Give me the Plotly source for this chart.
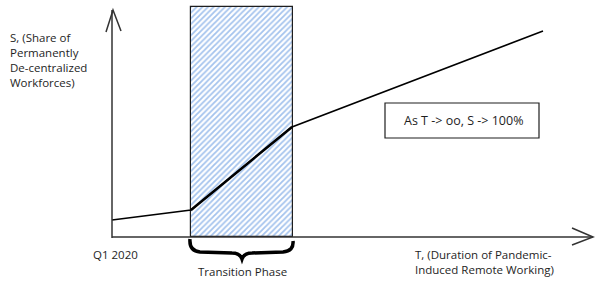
import plotly.graph_objects as go

# ---- data (T = duration units, S = share units; origin at axis intersection)
line_T = [0, 79, 180, 431]
line_S = [17, 27, 110, 206]

phase_start = 79
phase_end = 181
phase_top = 230

x_axis_end = 481
y_axis_end = 227

axis_label_S = "S, (Share of<br>Permanently<br>De-centralized<br>Workforces)"
axis_label_T = "T, (Duration of Pandemic-<br>Induced Remote Working)"
origin_label = "Q1 2020"
phase_label = "Transition Phase"
note_text = "As T -> oo, S -> 100%"

FONT = "Open Sans"
INK = "#1e1e1e"
FS = 11.5

fig = go.Figure()

# Transition phase hatched rectangle
fig.add_trace(go.Bar(
    x=[(phase_start + phase_end) / 2], y=[phase_top], base=[0],
    width=[phase_end - phase_start],
    marker=dict(color="white",
                pattern=dict(shape="/", fgcolor="#4a87dc", bgcolor="#ffffff",
                             size=4, solidity=0.45, fillmode="overlay"),
                line=dict(color=INK, width=1.2)),
    showlegend=False, hoverinfo="skip"))

# Main line
fig.add_trace(go.Scatter(x=line_T, y=line_S, mode="lines",
                         line=dict(color="black", width=1.5),
                         showlegend=False, hoverinfo="skip"))
# thicker stroke during transition
fig.add_trace(go.Scatter(x=line_T[1:3], y=line_S[1:3], mode="lines",
                         line=dict(color="black", width=2.5),
                         showlegend=False, hoverinfo="skip"))

shapes = []
axc = "#333333"
# axes
shapes.append(dict(type="line", x0=0, y0=-1, x1=0, y1=y_axis_end, line=dict(color=axc, width=1.5)))
shapes.append(dict(type="line", x0=0, y0=0, x1=x_axis_end, y1=0, line=dict(color=axc, width=1.5)))
# arrow heads
shapes.append(dict(type="path",
                   path=f"M {-6},{y_axis_end-22} L 1,{y_axis_end} L 9,{y_axis_end-21}",
                   line=dict(color=axc, width=1.5)))
shapes.append(dict(type="path",
                   path=f"M {x_axis_end-21},9 L {x_axis_end},0 L {x_axis_end-21},-8",
                   line=dict(color=axc, width=1.5)))
# curly brace under transition phase
mid = (phase_start + phase_end) / 2
b0, b1 = phase_start - 1, phase_end
shapes.append(dict(type="path",
                   path=(f"M {b0},-2 Q {b0-1},-14 {b0+10},-15 L {mid-10},-16 "
                         f"Q {mid-2},-16 {mid},-22 Q {mid+2},-16 {mid+10},-16 "
                         f"L {b1-10},-15 Q {b1+1},-14 {b1},-4"),
                   line=dict(color="black", width=3.5)))
# note box
shapes.append(dict(type="rect", x0=273, y0=99, x1=427, y1=134,
                   line=dict(color=INK, width=1.2), fillcolor="rgba(0,0,0,0)"))

annotations = [
    dict(x=-104, y=209, text=axis_label_S, xanchor="left", yanchor="top", align="left",
         showarrow=False, font=dict(family=FONT, size=FS, color=INK)),
    dict(x=301, y=-8, text=axis_label_T, xanchor="left", yanchor="top", align="left",
         showarrow=False, font=dict(family=FONT, size=FS, color=INK)),
    dict(x=3, y=-17, text=origin_label, xanchor="center", yanchor="middle",
         showarrow=False, font=dict(family=FONT, size=FS, color=INK)),
    dict(x=mid, y=-34, text=phase_label, xanchor="center", yanchor="middle",
         showarrow=False, font=dict(family=FONT, size=FS, color=INK)),
    dict(x=351, y=117, text=note_text, xanchor="center", yanchor="middle",
         showarrow=False, font=dict(family=FONT, size=FS + 1, color=INK)),
]

fig.update_layout(
    width=600, height=286, autosize=False,
    margin=dict(l=0, r=0, t=0, b=0),
    paper_bgcolor="white", plot_bgcolor="white",
    xaxis=dict(range=[-112, 488], visible=False, fixedrange=True),
    yaxis=dict(range=[-49, 237], visible=False, fixedrange=True),
    shapes=shapes, annotations=annotations, bargap=0,
)

fig.write_html("out.html", config={"displayModeBar": False})
